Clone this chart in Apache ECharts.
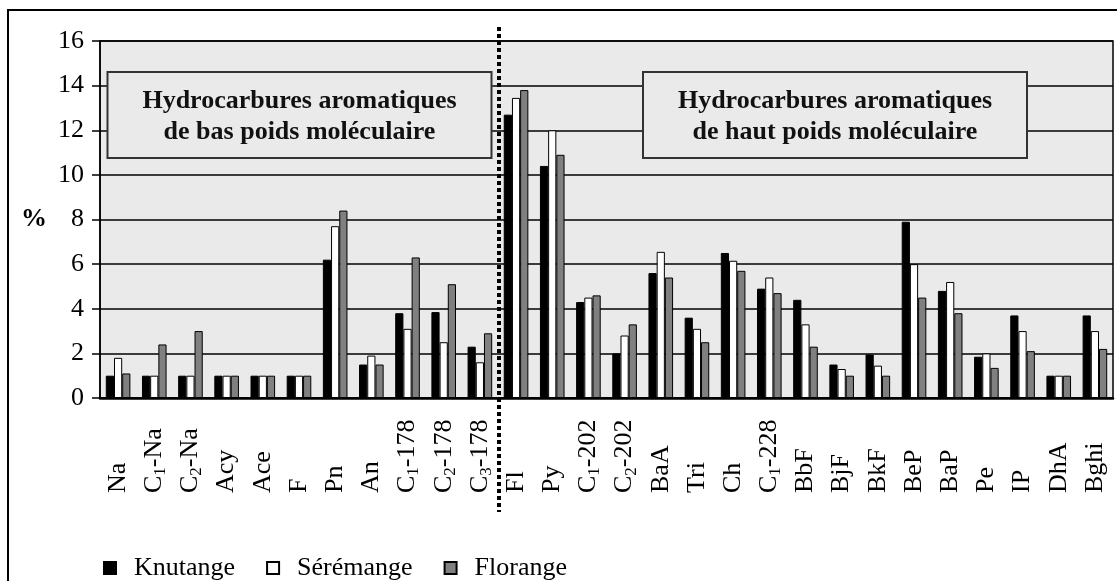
<!DOCTYPE html>
<html>
<head>
<meta charset="utf-8">
<style>
  html, body { margin: 0; padding: 0; background: #ffffff; }
  #chart { width: 1117px; height: 581px; }
</style>
<script src="https://cdn.jsdelivr.net/npm/echarts@6/dist/echarts.min.js"></script>
</head>
<body>
<div id="chart"></div>
<script>
// Compound labels; "C_n" marks a subscripted alkyl index
const categories = [
  'Na', 'C_1-Na', 'C_2-Na', 'Acy', 'Ace', 'F', 'Pn', 'An', 'C_1-178', 'C_2-178', 'C_3-178',
  'Fl', 'Py', 'C_1-202', 'C_2-202', 'BaA', 'Tri', 'Ch', 'C_1-228', 'BbF', 'BjF', 'BkF',
  'BeP', 'BaP', 'Pe', 'IP', 'DhA', 'Bghi'
];

// Relative abundance (%) per site
const knutange = [
  1.0, 1.0, 1.0, 1.0, 1.0, 1.0, 6.2, 1.5, 3.8, 3.85, 2.3,
  12.7, 10.4, 4.3, 2.0, 5.6, 3.6, 6.5, 4.9, 4.4, 1.5, 1.95,
  7.9, 4.8, 1.85, 3.7, 1.0, 3.7
];
const seremange = [
  1.8, 1.0, 1.0, 1.0, 1.0, 1.0, 7.7, 1.9, 3.1, 2.5, 1.6,
  13.45, 12.0, 4.5, 2.8, 6.55, 3.1, 6.15, 5.4, 3.3, 1.3, 1.45,
  6.0, 5.2, 2.0, 3.0, 1.0, 3.0
];
const florange = [
  1.1, 2.4, 3.0, 1.0, 1.0, 1.0, 8.4, 1.5, 6.3, 5.1, 2.9,
  13.8, 10.9, 4.6, 3.3, 5.4, 2.5, 5.7, 4.7, 2.3, 1.0, 1.0,
  4.5, 3.8, 1.35, 2.1, 1.0, 2.2
];

const yTicks = { min: 0, max: 16, interval: 2 };

const seriesNames = ['Knutange', 'Sérémange', 'Florange'];
const seriesColors = ['#000000', '#ffffff', '#808080'];

const FONT = '"Liberation Serif", "Times New Roman", serif';
const chart = echarts.init(document.getElementById('chart'), null, { renderer: 'canvas' });

function formatCategory(label) {
  const m = /^C_(\d)(.*)$/.exec(label);
  if (m) return '{n|C}{s|' + m[1] + '}{n|' + m[2] + '}';
  return '{n|' + label + '}';
}

const dataSets = [knutange, seremange, florange];

const series = seriesNames.map((name, i) => ({
  name: name,
  type: 'bar',
  data: dataSets[i],
  barGap: '0%',
  barCategoryGap: '32%',
  itemStyle: {
    color: seriesColors[i],
    borderColor: '#000000',
    borderWidth: 1
  },
  emphasis: { disabled: true },
  animation: false
}));

function boxGraphic(cx, lines) {
  return {
    type: 'group',
    children: [
      {
        type: 'rect',
        shape: { x: cx - 192, y: 72, width: 384, height: 86 },
        style: { fill: '#eaeaea', stroke: '#333333', lineWidth: 2 },
        z: 10
      },
      {
        type: 'text',
        x: cx,
        y: 117,
        style: {
          text: lines.join('\n'),
          font: 'bold 26px ' + FONT,
          fill: '#111111',
          align: 'center',
          verticalAlign: 'middle',
          lineHeight: 31
        },
        z: 11
      }
    ]
  };
}

const option = {
  animation: false,
  backgroundColor: '#ffffff',
  grid: {
    left: 100,
    right: 4,
    top: 41,
    bottom: 183,
    show: true,
    backgroundColor: '#eaeaea',
    borderColor: '#000000',
    borderWidth: 1.5
  },
  legend: {
    data: seriesNames,
    left: 98,
    top: 550,
    icon: 'rect',
    itemWidth: 12,
    itemHeight: 12,
    itemGap: 31,
    selectedMode: false,
    textStyle: {
      fontFamily: FONT,
      fontSize: 26,
      color: '#000000',
      padding: [0, 0, 0, 13]
    }
  },
  xAxis: {
    type: 'category',
    data: categories,
    axisLine: { show: true, lineStyle: { color: '#000000', width: 2.5 } },
    axisTick: { show: false },
    axisLabel: {
      interval: 0,
      rotate: 90,
      margin: 95,
      align: 'left',
      formatter: formatCategory,
      rich: {
        n: { fontFamily: FONT, fontSize: 26, color: '#000000', lineHeight: 30, verticalAlign: 'middle' },
        s: { fontFamily: FONT, fontSize: 17, color: '#000000', lineHeight: 30, verticalAlign: 'bottom' }
      }
    },
    splitLine: { show: false }
  },
  yAxis: {
    type: 'value',
    min: yTicks.min,
    max: yTicks.max,
    interval: yTicks.interval,
    axisLine: { show: true, lineStyle: { color: '#000000', width: 1.5 } },
    axisTick: { show: true, inside: false, length: 8, lineStyle: { color: '#000000', width: 1.5 } },
    axisLabel: {
      fontFamily: FONT,
      fontSize: 26,
      color: '#000000',
      margin: 16
    },
    splitLine: { show: true, lineStyle: { color: '#000000', width: 1.5 } }
  },
  series: series,
  graphic: [
    // outer frame
    {
      type: 'rect',
      shape: { x: 8, y: 10, width: 1130, height: 600 },
      style: { fill: 'none', stroke: '#000000', lineWidth: 2 },
      silent: true
    },
    // y-axis unit
    {
      type: 'text',
      x: 34,
      y: 219,
      style: {
        text: '%',
        font: 'bold 26px ' + FONT,
        fill: '#000000',
        align: 'center',
        verticalAlign: 'middle'
      }
    },
    // separator between low and high molecular weight groups
    {
      type: 'line',
      shape: { x1: 499, y1: 27, x2: 499, y2: 512 },
      style: { stroke: '#000000', lineWidth: 4, lineDash: [4, 3] },
      z: 20
    },
    boxGraphic(299.5, ['Hydrocarbures aromatiques', 'de bas poids moléculaire']),
    boxGraphic(835, ['Hydrocarbures aromatiques', 'de haut poids moléculaire'])
  ]
};

chart.setOption(option);
</script>
</body>
</html>
